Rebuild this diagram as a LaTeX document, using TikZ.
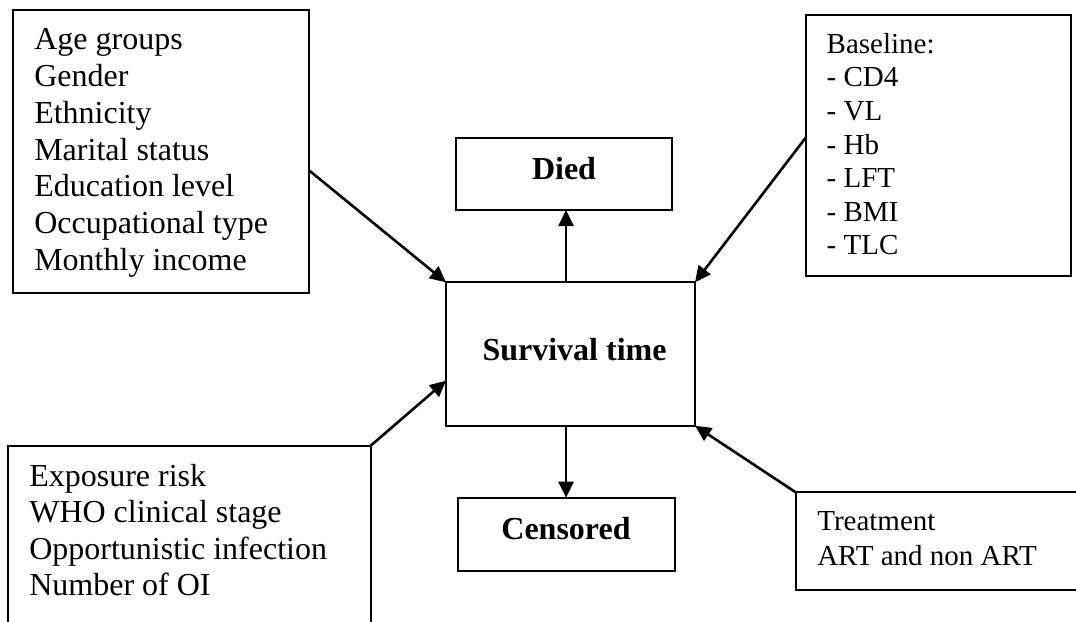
\documentclass[tikz,border=0pt]{standalone}
\usepackage{fontspec}
\setmainfont{Liberation Serif}
\usetikzlibrary{arrows.meta,calc}
\begin{document}
\begin{tikzpicture}[x=1pt,y=-1pt,
  box/.style={draw, line width=2.2pt, inner sep=0pt, outer sep=0pt, anchor=north west},
  listtext/.style={anchor=north west, inner sep=0pt, outer sep=0pt, align=left},
  biglist/.style={listtext, font=\fontsize{32}{36.7}\selectfont},
  smalllist/.style={listtext, font=\fontsize{29}{33.6}\selectfont},
  outcome/.style={anchor=base, inner sep=0pt, font=\fontsize{32}{36.7}\selectfont\bfseries},
  conn/.style={line width=2.6pt, -{Triangle[length=16pt,width=15pt]}}]
  % page area
  \fill[white] (0,0) rectangle (1076,621);
  \clip (0,0) rectangle (1076,621);

  % boxes
  \node[box, minimum width=296pt, minimum height=282.7pt] (demo) at (13.3,10) {};
  \node[box, minimum width=265pt, minimum height=261.3pt] (base) at (806,15) {};
  \node[box, minimum width=216.3pt, minimum height=71.7pt] (died) at (456,138.3) {};
  \node[box, minimum width=249pt, minimum height=143.4pt] (surv) at (446,282.3) {};
  \node[box, minimum width=217.3pt, minimum height=73pt] (cens) at (457.7,497.7) {};
  \node[box, minimum width=362.4pt, minimum height=200pt] (clin) at (8.3,445.7) {};
  \node[box, minimum width=300pt, minimum height=97.7pt] (treat) at (795.7,492.3) {};

  % box texts
  \node[biglist] (demotext) at (34.3,24.3) {\strut Age groups\\Gender\\Ethnicity\\Marital status\\Education level\\Occupational type\\Monthly income};
  \node[smalllist] (basetext) at (826.7,29.8) {\strut Baseline:\\- CD4\\- VL\\- Hb\\- LFT\\- BMI\\- TLC};
  \node[listtext, font=\fontsize{32}{36.5}\selectfont] (clintext) at (29.3,460.45) {\strut Exposure risk\\WHO clinical stage\\Opportunistic infection\\Number of OI};
  \node[listtext, font=\fontsize{29}{35}\selectfont] (treattext) at (817.3,505.5) {\strut Treatment\\ART and non ART};

  \node[outcome] (diedlabel) at (564,179.3) {Died};
  \node[outcome] (survlabel) at (574.5,360) {Survival time};
  \node[outcome] (censlabel) at (566,539.3) {Censored};

  % connectors
  \draw[conn] ($(demo.north east)!0.568!(demo.south east)$) -- (surv.north west);
  \draw[conn] ($(base.north west)!0.468!(base.south west)$) -- (surv.north east);
  \draw[conn] (clin.north east) -- ($(surv.north west)!0.686!(surv.south west)$);
  \draw[conn] (treat.north west) -- (surv.south east);
  \coordinate (up) at ($(surv.north west)!0.482!(surv.north east)$);
  \coordinate (down) at ($(surv.south west)!0.482!(surv.south east)$);
  \draw[conn] (up) -- (up |- died.south);
  \draw[conn] (down) -- (down |- cens.north);
\end{tikzpicture}
\end{document}
